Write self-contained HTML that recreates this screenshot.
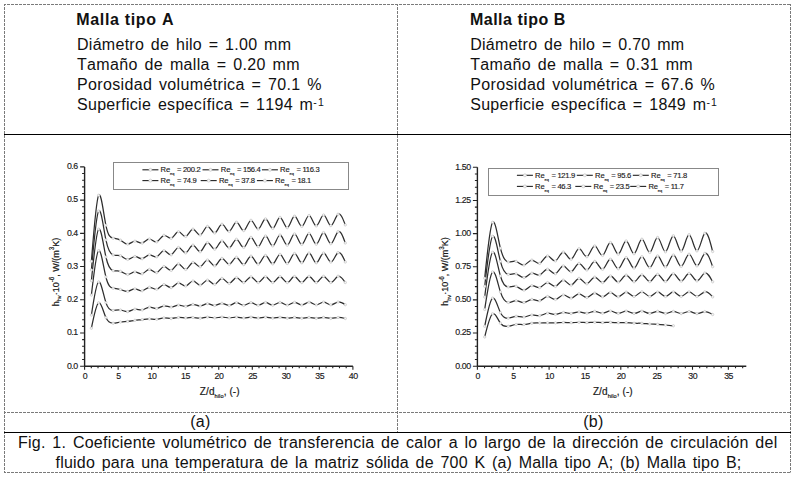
<!DOCTYPE html>
<html><head><meta charset="utf-8"><style>
html,body{margin:0;padding:0;background:#fff;}
body{width:795px;height:479px;position:relative;overflow:hidden;font-family:"Liberation Sans",sans-serif;color:#111;}
.t{position:absolute;white-space:nowrap;font-size:16px;word-spacing:2px;line-height:20px;font-kerning:none;}
.b{font-weight:bold;}
svg{position:absolute;left:0;top:0;}
.cv{fill:none;stroke:#2e2e2e;stroke-width:1.25;}
.mk{fill:#f6f6f6;stroke:#bdbdbd;stroke-width:0.6;}
.ax{fill:none;stroke:#222;stroke-width:1.4;}
.tk{fill:none;stroke:#222;stroke-width:1.1;}
.tl{font-family:"Liberation Sans",sans-serif;font-size:8.8px;letter-spacing:-0.45px;fill:#1a1a1a;stroke:#1a1a1a;stroke-width:0.15px;}
.al{font-family:"Liberation Sans",sans-serif;font-size:9px;fill:#1a1a1a;stroke:#1a1a1a;stroke-width:0.2px;}
.xl{font-family:"Liberation Sans",sans-serif;font-size:10px;letter-spacing:0.1px;fill:#1a1a1a;stroke:#1a1a1a;stroke-width:0.2px;}
.lt{font-family:"Liberation Sans",sans-serif;font-size:7.6px;fill:#1a1a1a;stroke:#1a1a1a;stroke-width:0.15px;}
.sb{font-size:3.8px;}
.sb2{font-size:5.6px;}
.sp{font-size:6.3px;}
.lb{fill:none;stroke:#888;stroke-width:1;}
.lg{stroke:#222;stroke-width:1.1;}
sup{font-size:10.5px;vertical-align:0;position:relative;top:-4px;letter-spacing:1.2px;}
</style></head><body>
<svg width="795" height="479" viewBox="0 0 795 479">
<g fill="none" stroke="#7a7a7a" stroke-width="1" stroke-dasharray="3 1" stroke-dashoffset="1">
<path d="M4,4.5 H790.5 M4.5,4 V472.5 M790.5,4 V472.5 M4,472.5 H791 M397.5,4 V432 M4,412.5 H790.5"/>
</g>
<path d="M4,134.5 H791 M4,432.5 H791" stroke="#000" stroke-width="1.2" fill="none"/>
<path d="M84.6,166.9 V366.2 M84.6,366.2 H352.9" class="ax"/>
<path d="M80.1,366.20 H84.6 M82.1,359.56 H84.6 M82.1,352.91 H84.6 M82.1,346.27 H84.6 M82.1,339.63 H84.6 M80.1,332.98 H84.6 M82.1,326.34 H84.6 M82.1,319.70 H84.6 M82.1,313.05 H84.6 M82.1,306.41 H84.6 M80.1,299.77 H84.6 M82.1,293.12 H84.6 M82.1,286.48 H84.6 M82.1,279.84 H84.6 M82.1,273.19 H84.6 M80.1,266.55 H84.6 M82.1,259.91 H84.6 M82.1,253.26 H84.6 M82.1,246.62 H84.6 M82.1,239.98 H84.6 M80.1,233.33 H84.6 M82.1,226.69 H84.6 M82.1,220.05 H84.6 M82.1,213.40 H84.6 M82.1,206.76 H84.6 M80.1,200.12 H84.6 M82.1,193.47 H84.6 M82.1,186.83 H84.6 M82.1,180.19 H84.6 M82.1,173.54 H84.6 M80.1,166.90 H84.6 M84.60,366.2 V369.8 M91.31,366.2 V368.2 M98.01,366.2 V368.2 M104.72,366.2 V368.2 M111.43,366.2 V368.2 M118.14,366.2 V369.8 M124.84,366.2 V368.2 M131.55,366.2 V368.2 M138.26,366.2 V368.2 M144.97,366.2 V368.2 M151.67,366.2 V369.8 M158.38,366.2 V368.2 M165.09,366.2 V368.2 M171.80,366.2 V368.2 M178.50,366.2 V368.2 M185.21,366.2 V369.8 M191.92,366.2 V368.2 M198.63,366.2 V368.2 M205.33,366.2 V368.2 M212.04,366.2 V368.2 M218.75,366.2 V369.8 M225.46,366.2 V368.2 M232.16,366.2 V368.2 M238.87,366.2 V368.2 M245.58,366.2 V368.2 M252.29,366.2 V369.8 M258.99,366.2 V368.2 M265.70,366.2 V368.2 M272.41,366.2 V368.2 M279.12,366.2 V368.2 M285.82,366.2 V369.8 M292.53,366.2 V368.2 M299.24,366.2 V368.2 M305.95,366.2 V368.2 M312.65,366.2 V368.2 M319.36,366.2 V369.8 M326.07,366.2 V368.2 M332.78,366.2 V368.2 M339.48,366.2 V368.2 M346.19,366.2 V368.2 M352.90,366.2 V369.8 " class="tk"/>
<text x="77.8" y="368.5" text-anchor="end" class="tl">0.0</text><text x="77.8" y="335.3" text-anchor="end" class="tl">0.1</text><text x="77.8" y="302.1" text-anchor="end" class="tl">0.2</text><text x="77.8" y="268.8" text-anchor="end" class="tl">0.3</text><text x="77.8" y="235.6" text-anchor="end" class="tl">0.4</text><text x="77.8" y="202.4" text-anchor="end" class="tl">0.5</text><text x="77.8" y="169.2" text-anchor="end" class="tl">0.6</text><text x="84.9" y="378.8" text-anchor="middle" class="tl">0</text><text x="118.4" y="378.8" text-anchor="middle" class="tl">5</text><text x="152.0" y="378.8" text-anchor="middle" class="tl">10</text><text x="185.5" y="378.8" text-anchor="middle" class="tl">15</text><text x="219.0" y="378.8" text-anchor="middle" class="tl">20</text><text x="252.6" y="378.8" text-anchor="middle" class="tl">25</text><text x="286.1" y="378.8" text-anchor="middle" class="tl">30</text><text x="319.7" y="378.8" text-anchor="middle" class="tl">35</text><text x="353.2" y="378.8" text-anchor="middle" class="tl">40</text>
<rect x="113.5" y="162.5" width="235" height="27" class="lb"/>
<path d="M142.4,169.8 H158.4" class="lg"/><circle cx="150.4" cy="169.8" r="1.5" class="mk"/><text x="160.6" y="172.4" class="lt">Re<tspan class="sb" dx="-0.3" dy="2.6">eq</tspan><tspan dy="-2.6" dx="0.9" letter-spacing="-0.3"> = 200.2</tspan></text><path d="M202.5,169.8 H218.5" class="lg"/><circle cx="210.5" cy="169.8" r="1.5" class="mk"/><text x="220.7" y="172.4" class="lt">Re<tspan class="sb" dx="-0.3" dy="2.6">eq</tspan><tspan dy="-2.6" dx="0.9" letter-spacing="-0.3"> = 156.4</tspan></text><path d="M261.9,169.8 H277.9" class="lg"/><circle cx="269.9" cy="169.8" r="1.5" class="mk"/><text x="280.1" y="172.4" class="lt">Re<tspan class="sb" dx="-0.3" dy="2.6">eq</tspan><tspan dy="-2.6" dx="0.9" letter-spacing="-0.3"> = 116.3</tspan></text><path d="M142.4,180.6 H158.4" class="lg"/><circle cx="150.4" cy="180.6" r="1.5" class="mk"/><text x="160.6" y="183.2" class="lt">Re<tspan class="sb" dx="-0.3" dy="2.6">eq</tspan><tspan dy="-2.6" dx="0.9" letter-spacing="-0.3"> = 74.9</tspan></text><path d="M200.7,180.6 H216.7" class="lg"/><circle cx="208.7" cy="180.6" r="1.5" class="mk"/><text x="218.9" y="183.2" class="lt">Re<tspan class="sb" dx="-0.3" dy="2.6">eq</tspan><tspan dy="-2.6" dx="0.9" letter-spacing="-0.3"> = 37.8</tspan></text><path d="M256.9,180.6 H272.9" class="lg"/><circle cx="264.9" cy="180.6" r="1.5" class="mk"/><text x="275.1" y="183.2" class="lt">Re<tspan class="sb" dx="-0.3" dy="2.6">eq</tspan><tspan dy="-2.6" dx="0.9" letter-spacing="-0.3"> = 18.1</tspan></text>
<path d="M91.40,261.30 C93.82,230.39 96.24,199.49 98.65,195.30 C101.07,191.11 103.49,213.64 105.91,225.30 C108.33,236.96 110.74,237.76 113.16,238.20 C115.58,238.64 118.00,238.72 120.42,240.10 C122.83,241.48 125.25,244.14 127.67,244.10 C130.09,244.06 132.51,241.31 134.92,241.20 C137.34,241.09 139.76,243.63 142.18,243.10 C144.60,242.57 147.01,238.97 149.43,239.00 C151.85,239.03 154.27,242.70 156.69,241.90 C159.10,241.10 161.52,235.81 163.94,235.30 C166.36,234.79 168.78,239.04 171.19,238.30 C173.61,237.56 176.03,231.84 178.45,231.70 C180.87,231.56 183.28,237.00 185.70,236.40 C188.12,235.80 190.54,229.15 192.96,229.10 C195.37,229.05 197.79,235.60 200.21,235.00 C202.63,234.40 205.05,226.64 207.46,226.40 C209.88,226.16 212.30,233.45 214.72,233.00 C217.14,232.55 219.55,224.37 221.97,224.20 C224.39,224.03 226.81,231.86 229.23,231.40 C231.64,230.94 234.06,222.18 236.48,222.20 C238.90,222.22 241.32,231.03 243.73,230.60 C246.15,230.17 248.57,220.49 250.99,220.30 C253.41,220.11 255.82,229.40 258.24,229.10 C260.66,228.80 263.08,218.91 265.50,218.90 C267.91,218.89 270.33,228.77 272.75,228.40 C275.17,228.03 277.59,217.43 280.00,217.40 C282.42,217.37 284.84,227.93 287.26,227.70 C289.68,227.47 292.09,216.44 294.51,216.20 C296.93,215.96 299.35,226.49 301.77,226.40 C304.18,226.31 306.60,215.58 309.02,215.50 C311.44,215.42 313.86,225.97 316.27,225.90 C318.69,225.83 321.11,215.13 323.53,215.00 C325.95,214.87 328.36,225.32 330.78,225.60 C333.20,225.88 335.62,216.01 338.04,214.20 C340.45,212.39 342.87,218.65 345.29,224.90" class="cv"/>
<path d="M91.40,270.00 C93.82,242.25 96.24,214.51 98.65,211.00 C101.07,207.49 103.49,228.22 105.91,239.90 C108.33,251.58 110.74,254.19 113.16,255.00 C115.58,255.81 118.00,254.80 120.42,255.70 C122.83,256.60 125.25,259.40 127.67,259.40 C130.09,259.40 132.51,256.58 134.92,256.50 C137.34,256.42 139.76,259.07 142.18,258.70 C144.60,258.33 147.01,254.94 149.43,254.80 C151.85,254.66 154.27,257.77 156.69,256.80 C159.10,255.83 161.52,250.77 163.94,250.70 C166.36,250.63 168.78,255.54 171.19,254.80 C173.61,254.06 176.03,247.65 178.45,247.50 C180.87,247.35 183.28,253.45 185.70,252.90 C188.12,252.35 190.54,245.13 192.96,245.10 C195.37,245.07 197.79,252.21 200.21,251.70 C202.63,251.19 205.05,243.03 207.46,242.60 C209.88,242.17 212.30,249.49 214.72,249.20 C217.14,248.91 219.55,241.03 221.97,240.90 C224.39,240.77 226.81,248.38 229.23,248.00 C231.64,247.62 234.06,239.23 236.48,239.30 C238.90,239.37 241.32,247.89 243.73,247.40 C246.15,246.91 248.57,237.39 250.99,237.40 C253.41,237.41 255.82,246.94 258.24,246.60 C260.66,246.26 263.08,236.03 265.50,236.00 C267.91,235.97 270.33,246.13 272.75,245.90 C275.17,245.67 277.59,235.06 280.00,235.00 C282.42,234.94 284.84,245.43 287.26,245.20 C289.68,244.97 292.09,234.02 294.51,233.90 C296.93,233.78 299.35,244.50 301.77,244.40 C304.18,244.30 306.60,233.38 309.02,233.40 C311.44,233.42 313.86,244.37 316.27,244.20 C318.69,244.03 321.11,232.76 323.53,232.60 C325.95,232.44 328.36,243.41 330.78,243.70 C333.20,243.99 335.62,233.60 338.04,231.70 C340.45,229.80 342.87,236.40 345.29,243.00" class="cv"/>
<path d="M91.40,280.70 C93.82,256.15 96.24,231.60 98.65,229.10 C101.07,226.60 103.49,246.14 105.91,257.00 C108.33,267.86 110.74,270.04 113.16,270.70 C115.58,271.36 118.00,270.50 120.42,271.30 C122.83,272.10 125.25,274.55 127.67,274.50 C130.09,274.45 132.51,271.91 134.92,271.90 C137.34,271.89 139.76,274.43 142.18,273.80 C144.60,273.17 147.01,269.37 149.43,269.40 C151.85,269.43 154.27,273.27 156.69,272.60 C159.10,271.93 161.52,266.73 163.94,266.50 C166.36,266.27 168.78,271.01 171.19,270.40 C173.61,269.79 176.03,263.84 178.45,263.80 C180.87,263.76 183.28,269.62 185.70,269.40 C188.12,269.18 190.54,262.88 192.96,262.40 C195.37,261.92 197.79,267.28 200.21,266.80 C202.63,266.32 205.05,260.02 207.46,260.00 C209.88,259.98 212.30,266.23 214.72,265.90 C217.14,265.57 219.55,258.65 221.97,258.40 C224.39,258.15 226.81,264.57 229.23,264.30 C231.64,264.03 234.06,257.06 236.48,257.30 C238.90,257.54 241.32,264.97 243.73,264.60 C246.15,264.23 248.57,256.06 250.99,256.10 C253.41,256.14 255.82,264.40 258.24,264.20 C260.66,264.00 263.08,255.36 265.50,255.40 C267.91,255.44 270.33,264.16 272.75,263.90 C275.17,263.64 277.59,254.38 280.00,254.40 C282.42,254.42 284.84,263.70 287.26,263.50 C289.68,263.30 292.09,253.60 294.51,253.50 C296.93,253.40 299.35,262.90 301.77,262.80 C304.18,262.70 306.60,252.99 309.02,253.00 C311.44,253.01 313.86,262.73 316.27,262.80 C318.69,262.87 321.11,253.28 323.53,253.00 C325.95,252.72 328.36,261.76 330.78,262.10 C333.20,262.44 335.62,254.07 338.04,252.60 C340.45,251.13 342.87,256.57 345.29,262.00" class="cv"/>
<path d="M91.40,295.10 C93.82,273.64 96.24,252.18 98.65,250.60 C101.07,249.02 103.49,267.34 105.91,277.00 C108.33,286.66 110.74,287.68 113.16,288.20 C115.58,288.72 118.00,288.74 120.42,289.50 C122.83,290.26 125.25,291.75 127.67,291.40 C130.09,291.05 132.51,288.87 134.92,288.90 C137.34,288.93 139.76,291.17 142.18,290.80 C144.60,290.43 147.01,287.46 149.43,287.30 C151.85,287.14 154.27,289.79 156.69,289.20 C159.10,288.61 161.52,284.76 163.94,284.60 C166.36,284.44 168.78,287.95 171.19,287.60 C173.61,287.25 176.03,283.02 178.45,282.80 C180.87,282.58 183.28,286.37 185.70,286.00 C188.12,285.63 190.54,281.08 192.96,281.00 C195.37,280.92 197.79,285.29 200.21,285.10 C202.63,284.91 205.05,280.16 207.46,280.10 C209.88,280.04 212.30,284.69 214.72,284.30 C217.14,283.91 219.55,278.49 221.97,278.40 C224.39,278.31 226.81,283.55 229.23,283.40 C231.64,283.25 234.06,277.72 236.48,277.60 C238.90,277.48 241.32,282.78 243.73,282.60 C246.15,282.42 248.57,276.75 250.99,276.80 C253.41,276.85 255.82,282.63 258.24,282.59 C260.66,282.54 263.08,276.69 265.50,276.70 C267.91,276.71 270.33,282.60 272.75,282.57 C275.17,282.54 277.59,276.59 280.00,276.60 C282.42,276.61 284.84,282.59 287.26,282.56 C289.68,282.53 292.09,276.49 294.51,276.50 C296.93,276.51 299.35,282.57 301.77,282.54 C304.18,282.51 306.60,276.39 309.02,276.40 C311.44,276.41 313.86,282.54 316.27,282.53 C318.69,282.52 321.11,276.36 323.53,276.30 C325.95,276.24 328.36,282.28 330.78,282.51 C333.20,282.75 335.62,277.17 338.04,276.20 C340.45,275.23 342.87,278.86 345.29,282.50" class="cv"/>
<path d="M91.40,315.10 C93.82,298.97 96.24,282.85 98.65,281.90 C101.07,280.95 103.49,295.19 105.91,302.60 C108.33,310.01 110.74,310.59 113.16,310.50 C115.58,310.41 118.00,309.65 120.42,310.00 C122.83,310.35 125.25,311.82 127.67,311.60 C130.09,311.38 132.51,309.47 134.92,309.20 C137.34,308.93 139.76,310.31 142.18,309.90 C144.60,309.49 147.01,307.30 149.43,307.10 C151.85,306.90 154.27,308.71 156.69,308.50 C159.10,308.29 161.52,306.08 163.94,305.80 C166.36,305.52 168.78,307.17 171.19,307.10 C173.61,307.03 176.03,305.22 178.45,305.10 C180.87,304.98 183.28,306.54 185.70,306.40 C188.12,306.26 190.54,304.43 192.96,304.40 C195.37,304.37 197.79,306.15 200.21,306.00 C202.63,305.85 205.05,303.76 207.46,303.70 C209.88,303.64 212.30,305.60 214.72,305.50 C217.14,305.40 219.55,303.23 221.97,303.30 C224.39,303.37 226.81,305.67 229.23,305.50 C231.64,305.33 234.06,302.67 236.48,302.70 C238.90,302.73 241.32,305.43 243.73,305.40 C246.15,305.37 248.57,302.61 250.99,302.60 C253.41,302.59 255.82,305.32 258.24,305.30 C260.66,305.28 263.08,302.52 265.50,302.50 C267.91,302.48 270.33,305.22 272.75,305.20 C275.17,305.18 277.59,302.42 280.00,302.40 C282.42,302.38 284.84,305.12 287.26,305.10 C289.68,305.08 292.09,302.32 294.51,302.30 C296.93,302.28 299.35,305.02 301.77,305.00 C304.18,304.98 306.60,302.22 309.02,302.20 C311.44,302.18 313.86,304.91 316.27,304.90 C318.69,304.89 321.11,302.15 323.53,302.10 C325.95,302.05 328.36,304.70 330.78,304.80 C333.20,304.90 335.62,302.44 338.04,302.00 C340.45,301.56 342.87,303.13 345.29,304.70" class="cv"/>
<path d="M91.40,328.20 C93.82,315.97 96.24,303.74 98.65,302.80 C101.07,301.86 103.49,312.23 105.91,317.60 C108.33,322.97 110.74,323.36 113.16,323.20 C115.58,323.04 118.00,322.35 120.42,322.00 C122.83,321.65 125.25,321.66 127.67,321.40 C130.09,321.14 132.51,320.61 134.92,320.30 C137.34,319.99 139.76,319.88 142.18,319.60 C144.60,319.32 147.01,318.85 149.43,318.90 C151.85,318.95 154.27,319.53 156.69,319.30 C159.10,319.07 161.52,318.04 163.94,317.90 C166.36,317.76 168.78,318.53 171.19,318.50 C173.61,318.47 176.03,317.65 178.45,317.50 C180.87,317.35 183.28,317.89 185.70,317.90 C188.12,317.91 190.54,317.40 192.96,317.50 C195.37,317.60 197.79,318.31 200.21,318.20 C202.63,318.09 205.05,317.15 207.46,317.10 C209.88,317.05 212.30,317.89 214.72,317.90 C217.14,317.91 219.55,317.10 221.97,317.10 C224.39,317.10 226.81,317.90 229.23,317.90 C231.64,317.90 234.06,317.08 236.48,317.10 C238.90,317.12 241.32,317.97 243.73,317.97 C246.15,317.98 248.57,317.14 250.99,317.16 C253.41,317.17 255.82,318.04 258.24,318.05 C260.66,318.06 263.08,317.20 265.50,317.21 C267.91,317.23 270.33,318.12 272.75,318.12 C275.17,318.13 277.59,317.26 280.00,317.27 C282.42,317.29 284.84,318.19 287.26,318.20 C289.68,318.21 292.09,317.31 294.51,317.33 C296.93,317.34 299.35,318.27 301.77,318.27 C304.18,318.28 306.60,317.37 309.02,317.39 C311.44,317.40 313.86,318.34 316.27,318.35 C318.69,318.36 321.11,317.44 323.53,317.44 C325.95,317.45 328.36,318.38 330.78,318.42 C333.20,318.47 335.62,317.63 338.04,317.50 C340.45,317.37 342.87,317.93 345.29,318.50" class="cv"/>
<circle cx="91.40" cy="261.30" r="1.2" class="mk"/><circle cx="98.65" cy="195.30" r="1.2" class="mk"/><circle cx="105.91" cy="225.30" r="1.2" class="mk"/><circle cx="113.16" cy="238.20" r="1.2" class="mk"/><circle cx="120.42" cy="240.10" r="1.2" class="mk"/><circle cx="127.67" cy="244.10" r="1.2" class="mk"/><circle cx="134.92" cy="241.20" r="1.2" class="mk"/><circle cx="142.18" cy="243.10" r="1.2" class="mk"/><circle cx="149.43" cy="239.00" r="1.2" class="mk"/><circle cx="156.69" cy="241.90" r="1.2" class="mk"/><circle cx="163.94" cy="235.30" r="1.2" class="mk"/><circle cx="171.19" cy="238.30" r="1.2" class="mk"/><circle cx="178.45" cy="231.70" r="1.2" class="mk"/><circle cx="185.70" cy="236.40" r="1.2" class="mk"/><circle cx="192.96" cy="229.10" r="1.2" class="mk"/><circle cx="200.21" cy="235.00" r="1.2" class="mk"/><circle cx="207.46" cy="226.40" r="1.2" class="mk"/><circle cx="214.72" cy="233.00" r="1.2" class="mk"/><circle cx="221.97" cy="224.20" r="1.2" class="mk"/><circle cx="229.23" cy="231.40" r="1.2" class="mk"/><circle cx="236.48" cy="222.20" r="1.2" class="mk"/><circle cx="243.73" cy="230.60" r="1.2" class="mk"/><circle cx="250.99" cy="220.30" r="1.2" class="mk"/><circle cx="258.24" cy="229.10" r="1.2" class="mk"/><circle cx="265.50" cy="218.90" r="1.2" class="mk"/><circle cx="272.75" cy="228.40" r="1.2" class="mk"/><circle cx="280.00" cy="217.40" r="1.2" class="mk"/><circle cx="287.26" cy="227.70" r="1.2" class="mk"/><circle cx="294.51" cy="216.20" r="1.2" class="mk"/><circle cx="301.77" cy="226.40" r="1.2" class="mk"/><circle cx="309.02" cy="215.50" r="1.2" class="mk"/><circle cx="316.27" cy="225.90" r="1.2" class="mk"/><circle cx="323.53" cy="215.00" r="1.2" class="mk"/><circle cx="330.78" cy="225.60" r="1.2" class="mk"/><circle cx="338.04" cy="214.20" r="1.2" class="mk"/><circle cx="345.29" cy="224.90" r="1.2" class="mk"/>
<circle cx="91.40" cy="270.00" r="1.2" class="mk"/><circle cx="98.65" cy="211.00" r="1.2" class="mk"/><circle cx="105.91" cy="239.90" r="1.2" class="mk"/><circle cx="113.16" cy="255.00" r="1.2" class="mk"/><circle cx="120.42" cy="255.70" r="1.2" class="mk"/><circle cx="127.67" cy="259.40" r="1.2" class="mk"/><circle cx="134.92" cy="256.50" r="1.2" class="mk"/><circle cx="142.18" cy="258.70" r="1.2" class="mk"/><circle cx="149.43" cy="254.80" r="1.2" class="mk"/><circle cx="156.69" cy="256.80" r="1.2" class="mk"/><circle cx="163.94" cy="250.70" r="1.2" class="mk"/><circle cx="171.19" cy="254.80" r="1.2" class="mk"/><circle cx="178.45" cy="247.50" r="1.2" class="mk"/><circle cx="185.70" cy="252.90" r="1.2" class="mk"/><circle cx="192.96" cy="245.10" r="1.2" class="mk"/><circle cx="200.21" cy="251.70" r="1.2" class="mk"/><circle cx="207.46" cy="242.60" r="1.2" class="mk"/><circle cx="214.72" cy="249.20" r="1.2" class="mk"/><circle cx="221.97" cy="240.90" r="1.2" class="mk"/><circle cx="229.23" cy="248.00" r="1.2" class="mk"/><circle cx="236.48" cy="239.30" r="1.2" class="mk"/><circle cx="243.73" cy="247.40" r="1.2" class="mk"/><circle cx="250.99" cy="237.40" r="1.2" class="mk"/><circle cx="258.24" cy="246.60" r="1.2" class="mk"/><circle cx="265.50" cy="236.00" r="1.2" class="mk"/><circle cx="272.75" cy="245.90" r="1.2" class="mk"/><circle cx="280.00" cy="235.00" r="1.2" class="mk"/><circle cx="287.26" cy="245.20" r="1.2" class="mk"/><circle cx="294.51" cy="233.90" r="1.2" class="mk"/><circle cx="301.77" cy="244.40" r="1.2" class="mk"/><circle cx="309.02" cy="233.40" r="1.2" class="mk"/><circle cx="316.27" cy="244.20" r="1.2" class="mk"/><circle cx="323.53" cy="232.60" r="1.2" class="mk"/><circle cx="330.78" cy="243.70" r="1.2" class="mk"/><circle cx="338.04" cy="231.70" r="1.2" class="mk"/><circle cx="345.29" cy="243.00" r="1.2" class="mk"/>
<circle cx="91.40" cy="280.70" r="1.2" class="mk"/><circle cx="98.65" cy="229.10" r="1.2" class="mk"/><circle cx="105.91" cy="257.00" r="1.2" class="mk"/><circle cx="113.16" cy="270.70" r="1.2" class="mk"/><circle cx="120.42" cy="271.30" r="1.2" class="mk"/><circle cx="127.67" cy="274.50" r="1.2" class="mk"/><circle cx="134.92" cy="271.90" r="1.2" class="mk"/><circle cx="142.18" cy="273.80" r="1.2" class="mk"/><circle cx="149.43" cy="269.40" r="1.2" class="mk"/><circle cx="156.69" cy="272.60" r="1.2" class="mk"/><circle cx="163.94" cy="266.50" r="1.2" class="mk"/><circle cx="171.19" cy="270.40" r="1.2" class="mk"/><circle cx="178.45" cy="263.80" r="1.2" class="mk"/><circle cx="185.70" cy="269.40" r="1.2" class="mk"/><circle cx="192.96" cy="262.40" r="1.2" class="mk"/><circle cx="200.21" cy="266.80" r="1.2" class="mk"/><circle cx="207.46" cy="260.00" r="1.2" class="mk"/><circle cx="214.72" cy="265.90" r="1.2" class="mk"/><circle cx="221.97" cy="258.40" r="1.2" class="mk"/><circle cx="229.23" cy="264.30" r="1.2" class="mk"/><circle cx="236.48" cy="257.30" r="1.2" class="mk"/><circle cx="243.73" cy="264.60" r="1.2" class="mk"/><circle cx="250.99" cy="256.10" r="1.2" class="mk"/><circle cx="258.24" cy="264.20" r="1.2" class="mk"/><circle cx="265.50" cy="255.40" r="1.2" class="mk"/><circle cx="272.75" cy="263.90" r="1.2" class="mk"/><circle cx="280.00" cy="254.40" r="1.2" class="mk"/><circle cx="287.26" cy="263.50" r="1.2" class="mk"/><circle cx="294.51" cy="253.50" r="1.2" class="mk"/><circle cx="301.77" cy="262.80" r="1.2" class="mk"/><circle cx="309.02" cy="253.00" r="1.2" class="mk"/><circle cx="316.27" cy="262.80" r="1.2" class="mk"/><circle cx="323.53" cy="253.00" r="1.2" class="mk"/><circle cx="330.78" cy="262.10" r="1.2" class="mk"/><circle cx="338.04" cy="252.60" r="1.2" class="mk"/><circle cx="345.29" cy="262.00" r="1.2" class="mk"/>
<circle cx="91.40" cy="295.10" r="1.2" class="mk"/><circle cx="98.65" cy="250.60" r="1.2" class="mk"/><circle cx="105.91" cy="277.00" r="1.2" class="mk"/><circle cx="113.16" cy="288.20" r="1.2" class="mk"/><circle cx="120.42" cy="289.50" r="1.2" class="mk"/><circle cx="127.67" cy="291.40" r="1.2" class="mk"/><circle cx="134.92" cy="288.90" r="1.2" class="mk"/><circle cx="142.18" cy="290.80" r="1.2" class="mk"/><circle cx="149.43" cy="287.30" r="1.2" class="mk"/><circle cx="156.69" cy="289.20" r="1.2" class="mk"/><circle cx="163.94" cy="284.60" r="1.2" class="mk"/><circle cx="171.19" cy="287.60" r="1.2" class="mk"/><circle cx="178.45" cy="282.80" r="1.2" class="mk"/><circle cx="185.70" cy="286.00" r="1.2" class="mk"/><circle cx="192.96" cy="281.00" r="1.2" class="mk"/><circle cx="200.21" cy="285.10" r="1.2" class="mk"/><circle cx="207.46" cy="280.10" r="1.2" class="mk"/><circle cx="214.72" cy="284.30" r="1.2" class="mk"/><circle cx="221.97" cy="278.40" r="1.2" class="mk"/><circle cx="229.23" cy="283.40" r="1.2" class="mk"/><circle cx="236.48" cy="277.60" r="1.2" class="mk"/><circle cx="243.73" cy="282.60" r="1.2" class="mk"/><circle cx="250.99" cy="276.80" r="1.2" class="mk"/><circle cx="258.24" cy="282.59" r="1.2" class="mk"/><circle cx="265.50" cy="276.70" r="1.2" class="mk"/><circle cx="272.75" cy="282.57" r="1.2" class="mk"/><circle cx="280.00" cy="276.60" r="1.2" class="mk"/><circle cx="287.26" cy="282.56" r="1.2" class="mk"/><circle cx="294.51" cy="276.50" r="1.2" class="mk"/><circle cx="301.77" cy="282.54" r="1.2" class="mk"/><circle cx="309.02" cy="276.40" r="1.2" class="mk"/><circle cx="316.27" cy="282.53" r="1.2" class="mk"/><circle cx="323.53" cy="276.30" r="1.2" class="mk"/><circle cx="330.78" cy="282.51" r="1.2" class="mk"/><circle cx="338.04" cy="276.20" r="1.2" class="mk"/><circle cx="345.29" cy="282.50" r="1.2" class="mk"/>
<circle cx="91.40" cy="315.10" r="1.2" class="mk"/><circle cx="98.65" cy="281.90" r="1.2" class="mk"/><circle cx="105.91" cy="302.60" r="1.2" class="mk"/><circle cx="113.16" cy="310.50" r="1.2" class="mk"/><circle cx="120.42" cy="310.00" r="1.2" class="mk"/><circle cx="127.67" cy="311.60" r="1.2" class="mk"/><circle cx="134.92" cy="309.20" r="1.2" class="mk"/><circle cx="142.18" cy="309.90" r="1.2" class="mk"/><circle cx="149.43" cy="307.10" r="1.2" class="mk"/><circle cx="156.69" cy="308.50" r="1.2" class="mk"/><circle cx="163.94" cy="305.80" r="1.2" class="mk"/><circle cx="171.19" cy="307.10" r="1.2" class="mk"/><circle cx="178.45" cy="305.10" r="1.2" class="mk"/><circle cx="185.70" cy="306.40" r="1.2" class="mk"/><circle cx="192.96" cy="304.40" r="1.2" class="mk"/><circle cx="200.21" cy="306.00" r="1.2" class="mk"/><circle cx="207.46" cy="303.70" r="1.2" class="mk"/><circle cx="214.72" cy="305.50" r="1.2" class="mk"/><circle cx="221.97" cy="303.30" r="1.2" class="mk"/><circle cx="229.23" cy="305.50" r="1.2" class="mk"/><circle cx="236.48" cy="302.70" r="1.2" class="mk"/><circle cx="243.73" cy="305.40" r="1.2" class="mk"/><circle cx="250.99" cy="302.60" r="1.2" class="mk"/><circle cx="258.24" cy="305.30" r="1.2" class="mk"/><circle cx="265.50" cy="302.50" r="1.2" class="mk"/><circle cx="272.75" cy="305.20" r="1.2" class="mk"/><circle cx="280.00" cy="302.40" r="1.2" class="mk"/><circle cx="287.26" cy="305.10" r="1.2" class="mk"/><circle cx="294.51" cy="302.30" r="1.2" class="mk"/><circle cx="301.77" cy="305.00" r="1.2" class="mk"/><circle cx="309.02" cy="302.20" r="1.2" class="mk"/><circle cx="316.27" cy="304.90" r="1.2" class="mk"/><circle cx="323.53" cy="302.10" r="1.2" class="mk"/><circle cx="330.78" cy="304.80" r="1.2" class="mk"/><circle cx="338.04" cy="302.00" r="1.2" class="mk"/><circle cx="345.29" cy="304.70" r="1.2" class="mk"/>
<circle cx="91.40" cy="328.20" r="1.2" class="mk"/><circle cx="98.65" cy="302.80" r="1.2" class="mk"/><circle cx="105.91" cy="317.60" r="1.2" class="mk"/><circle cx="113.16" cy="323.20" r="1.2" class="mk"/><circle cx="120.42" cy="322.00" r="1.2" class="mk"/><circle cx="127.67" cy="321.40" r="1.2" class="mk"/><circle cx="134.92" cy="320.30" r="1.2" class="mk"/><circle cx="142.18" cy="319.60" r="1.2" class="mk"/><circle cx="149.43" cy="318.90" r="1.2" class="mk"/><circle cx="156.69" cy="319.30" r="1.2" class="mk"/><circle cx="163.94" cy="317.90" r="1.2" class="mk"/><circle cx="171.19" cy="318.50" r="1.2" class="mk"/><circle cx="178.45" cy="317.50" r="1.2" class="mk"/><circle cx="185.70" cy="317.90" r="1.2" class="mk"/><circle cx="192.96" cy="317.50" r="1.2" class="mk"/><circle cx="200.21" cy="318.20" r="1.2" class="mk"/><circle cx="207.46" cy="317.10" r="1.2" class="mk"/><circle cx="214.72" cy="317.90" r="1.2" class="mk"/><circle cx="221.97" cy="317.10" r="1.2" class="mk"/><circle cx="229.23" cy="317.90" r="1.2" class="mk"/><circle cx="236.48" cy="317.10" r="1.2" class="mk"/><circle cx="243.73" cy="317.97" r="1.2" class="mk"/><circle cx="250.99" cy="317.16" r="1.2" class="mk"/><circle cx="258.24" cy="318.05" r="1.2" class="mk"/><circle cx="265.50" cy="317.21" r="1.2" class="mk"/><circle cx="272.75" cy="318.12" r="1.2" class="mk"/><circle cx="280.00" cy="317.27" r="1.2" class="mk"/><circle cx="287.26" cy="318.20" r="1.2" class="mk"/><circle cx="294.51" cy="317.33" r="1.2" class="mk"/><circle cx="301.77" cy="318.27" r="1.2" class="mk"/><circle cx="309.02" cy="317.39" r="1.2" class="mk"/><circle cx="316.27" cy="318.35" r="1.2" class="mk"/><circle cx="323.53" cy="317.44" r="1.2" class="mk"/><circle cx="330.78" cy="318.42" r="1.2" class="mk"/><circle cx="338.04" cy="317.50" r="1.2" class="mk"/><circle cx="345.29" cy="318.50" r="1.2" class="mk"/>
<text transform="translate(58.5,272.0) rotate(-90)" text-anchor="middle" class="al">h<tspan class="sb2" dy="2.5">hv</tspan><tspan dy="-2.5">&#183;10</tspan><tspan class="sp" dy="-4.3">-6</tspan><tspan dy="4.3">, W/(m</tspan><tspan class="sp" dy="-4.3">3</tspan><tspan dy="4.3">K)</tspan></text>
<text x="199.8" y="394.7" class="xl">Z/d<tspan class="sb2" dy="3">hilo</tspan><tspan dy="-3">, (-)</tspan></text>
<path d="M477.4,167.3 V366.2 M477.4,366.2 H746.3" class="ax"/>
<path d="M472.9,366.20 H477.4 M474.9,359.57 H477.4 M474.9,352.94 H477.4 M474.9,346.31 H477.4 M474.9,339.68 H477.4 M472.9,333.05 H477.4 M474.9,326.42 H477.4 M474.9,319.79 H477.4 M474.9,313.16 H477.4 M474.9,306.53 H477.4 M472.9,299.90 H477.4 M474.9,293.27 H477.4 M474.9,286.64 H477.4 M474.9,280.01 H477.4 M474.9,273.38 H477.4 M472.9,266.75 H477.4 M474.9,260.12 H477.4 M474.9,253.49 H477.4 M474.9,246.86 H477.4 M474.9,240.23 H477.4 M472.9,233.60 H477.4 M474.9,226.97 H477.4 M474.9,220.34 H477.4 M474.9,213.71 H477.4 M474.9,207.08 H477.4 M472.9,200.45 H477.4 M474.9,193.82 H477.4 M474.9,187.19 H477.4 M474.9,180.56 H477.4 M474.9,173.93 H477.4 M472.9,167.30 H477.4 M477.40,366.2 V369.8 M484.57,366.2 V368.2 M491.74,366.2 V368.2 M498.91,366.2 V368.2 M506.08,366.2 V368.2 M513.25,366.2 V369.8 M520.42,366.2 V368.2 M527.59,366.2 V368.2 M534.76,366.2 V368.2 M541.93,366.2 V368.2 M549.10,366.2 V369.8 M556.27,366.2 V368.2 M563.44,366.2 V368.2 M570.61,366.2 V368.2 M577.78,366.2 V368.2 M584.95,366.2 V369.8 M592.12,366.2 V368.2 M599.29,366.2 V368.2 M606.46,366.2 V368.2 M613.63,366.2 V368.2 M620.80,366.2 V369.8 M627.97,366.2 V368.2 M635.14,366.2 V368.2 M642.31,366.2 V368.2 M649.48,366.2 V368.2 M656.65,366.2 V369.8 M663.82,366.2 V368.2 M670.99,366.2 V368.2 M678.16,366.2 V368.2 M685.33,366.2 V368.2 M692.50,366.2 V369.8 M699.67,366.2 V368.2 M706.84,366.2 V368.2 M714.01,366.2 V368.2 M721.18,366.2 V368.2 M728.35,366.2 V369.8 M735.52,366.2 V368.2 M742.69,366.2 V368.2 " class="tk"/>
<text x="470.6" y="368.5" text-anchor="end" class="tl">0.00</text><text x="470.6" y="335.4" text-anchor="end" class="tl">0.25</text><text x="470.6" y="302.2" text-anchor="end" class="tl">0.50</text><text x="470.6" y="269.1" text-anchor="end" class="tl">0.75</text><text x="470.6" y="235.9" text-anchor="end" class="tl">1.00</text><text x="470.6" y="202.8" text-anchor="end" class="tl">1.25</text><text x="470.6" y="169.6" text-anchor="end" class="tl">1.50</text><text x="477.7" y="378.8" text-anchor="middle" class="tl">0</text><text x="513.5" y="378.8" text-anchor="middle" class="tl">5</text><text x="549.4" y="378.8" text-anchor="middle" class="tl">10</text><text x="585.2" y="378.8" text-anchor="middle" class="tl">15</text><text x="621.1" y="378.8" text-anchor="middle" class="tl">20</text><text x="656.9" y="378.8" text-anchor="middle" class="tl">25</text><text x="692.8" y="378.8" text-anchor="middle" class="tl">30</text><text x="728.6" y="378.8" text-anchor="middle" class="tl">35</text>
<rect x="488.5" y="168.5" width="230" height="27" class="lb"/>
<path d="M516.9,175.3 H532.9" class="lg"/><circle cx="524.9" cy="175.3" r="1.5" class="mk"/><text x="535.1" y="177.9" class="lt">Re<tspan class="sb" dx="-0.3" dy="2.6">eq</tspan><tspan dy="-2.6" dx="0.9" letter-spacing="-0.3"> = 121.9</tspan></text><path d="M576.8,175.3 H592.8" class="lg"/><circle cx="584.8" cy="175.3" r="1.5" class="mk"/><text x="595.0" y="177.9" class="lt">Re<tspan class="sb" dx="-0.3" dy="2.6">eq</tspan><tspan dy="-2.6" dx="0.9" letter-spacing="-0.3"> = 95.6</tspan></text><path d="M632.8,175.3 H648.8" class="lg"/><circle cx="640.8" cy="175.3" r="1.5" class="mk"/><text x="651.0" y="177.9" class="lt">Re<tspan class="sb" dx="-0.3" dy="2.6">eq</tspan><tspan dy="-2.6" dx="0.9" letter-spacing="-0.3"> = 71.8</tspan></text><path d="M516.9,186.4 H532.9" class="lg"/><circle cx="524.9" cy="186.4" r="1.5" class="mk"/><text x="535.1" y="189.0" class="lt">Re<tspan class="sb" dx="-0.3" dy="2.6">eq</tspan><tspan dy="-2.6" dx="0.9" letter-spacing="-0.3"> = 46.3</tspan></text><path d="M575.3,186.4 H591.3" class="lg"/><circle cx="583.3" cy="186.4" r="1.5" class="mk"/><text x="593.5" y="189.0" class="lt">Re<tspan class="sb" dx="-0.3" dy="2.6">eq</tspan><tspan dy="-2.6" dx="0.9" letter-spacing="-0.3"> = 23.5</tspan></text><path d="M630.2,186.4 H646.2" class="lg"/><circle cx="638.2" cy="186.4" r="1.5" class="mk"/><text x="648.4" y="189.0" class="lt">Re<tspan class="sb" dx="-0.3" dy="2.6">eq</tspan><tspan dy="-2.6" dx="0.9" letter-spacing="-0.3"> = 11.7</tspan></text>
<path d="M484.70,278.20 C487.32,252.08 489.94,225.95 492.56,222.30 C495.18,218.65 497.80,237.47 500.42,248.20 C503.04,258.93 505.66,261.58 508.28,262.00 C510.90,262.42 513.52,260.60 516.14,261.40 C518.76,262.20 521.38,265.61 524.00,265.10 C526.62,264.59 529.24,260.15 531.86,260.10 C534.48,260.05 537.10,264.40 539.72,263.40 C542.34,262.40 544.96,256.04 547.58,255.90 C550.20,255.76 552.82,261.84 555.44,260.90 C558.06,259.96 560.68,252.00 563.30,252.00 C565.92,252.00 568.54,259.96 571.16,259.20 C573.78,258.44 576.40,248.97 579.02,248.70 C581.64,248.43 584.26,257.34 586.88,256.70 C589.50,256.06 592.12,245.85 594.74,245.90 C597.36,245.95 599.98,256.27 602.60,255.40 C605.22,254.53 607.84,242.48 610.46,242.50 C613.08,242.52 615.70,254.63 618.32,254.20 C620.94,253.77 623.56,240.81 626.18,240.90 C628.80,240.99 631.42,254.12 634.04,253.70 C636.66,253.28 639.28,239.32 641.90,239.20 C644.52,239.08 647.14,252.81 649.76,252.40 C652.38,251.99 655.00,237.44 657.62,237.50 C660.24,237.56 662.86,252.25 665.48,251.80 C668.10,251.35 670.72,235.77 673.34,235.80 C675.96,235.83 678.58,251.46 681.20,251.20 C683.82,250.94 686.44,234.78 689.06,234.70 C691.68,234.62 694.30,250.60 696.92,250.90 C699.54,251.20 702.16,235.81 704.78,233.30 C707.40,230.79 710.02,241.14 712.64,251.50" class="cv"/>
<path d="M484.70,286.30 C487.32,262.74 489.94,239.17 492.56,236.30 C495.18,233.43 497.80,251.25 500.42,261.40 C503.04,271.55 505.66,274.03 508.28,274.40 C510.90,274.77 513.52,273.03 516.14,273.80 C518.76,274.57 521.38,277.86 524.00,277.60 C526.62,277.34 529.24,273.55 531.86,273.20 C534.48,272.85 537.10,275.94 539.72,275.00 C542.34,274.06 544.96,269.09 547.58,269.20 C550.20,269.31 552.82,274.51 555.44,273.70 C558.06,272.89 560.68,266.06 563.30,265.90 C565.92,265.74 568.54,272.24 571.16,271.70 C573.78,271.16 576.40,263.57 579.02,263.40 C581.64,263.23 584.26,270.48 586.88,270.00 C589.50,269.52 592.12,261.30 594.74,261.40 C597.36,261.50 599.98,269.91 602.60,269.30 C605.22,268.69 607.84,259.07 610.46,259.20 C613.08,259.33 615.70,269.23 618.32,268.80 C620.94,268.37 623.56,257.61 626.18,257.60 C628.80,257.59 631.42,268.31 634.04,268.10 C636.66,267.89 639.28,256.73 641.90,256.70 C644.52,256.67 647.14,267.78 649.76,267.60 C652.38,267.42 655.00,255.96 657.62,255.90 C660.24,255.84 662.86,267.19 665.48,267.00 C668.10,266.81 670.72,255.07 673.34,255.00 C675.96,254.93 678.58,266.54 681.20,266.40 C683.82,266.26 686.44,254.36 689.06,254.20 C691.68,254.04 694.30,265.62 696.92,265.90 C699.54,266.18 702.16,255.15 704.78,253.40 C707.40,251.65 710.02,259.17 712.64,266.70" class="cv"/>
<path d="M484.70,297.00 C487.32,275.72 489.94,254.44 492.56,252.20 C495.18,249.96 497.80,266.75 500.42,276.00 C503.04,285.25 505.66,286.94 508.28,287.00 C510.90,287.06 513.52,285.47 516.14,286.30 C518.76,287.13 521.38,290.36 524.00,290.10 C526.62,289.84 529.24,286.09 531.86,285.70 C534.48,285.31 537.10,288.28 539.72,287.60 C542.34,286.92 544.96,282.58 547.58,282.60 C550.20,282.62 552.82,287.01 555.44,286.40 C558.06,285.79 560.68,280.18 563.30,280.10 C565.92,280.02 568.54,285.46 571.16,285.10 C573.78,284.74 576.40,278.58 579.02,278.40 C581.64,278.22 584.26,284.04 586.88,283.80 C589.50,283.56 592.12,277.28 594.74,277.10 C597.36,276.92 599.98,282.85 602.60,282.60 C605.22,282.35 607.84,275.91 610.46,275.90 C613.08,275.89 615.70,282.29 618.32,282.10 C620.94,281.91 623.56,275.11 626.18,275.10 C628.80,275.09 631.42,281.87 634.04,281.80 C636.66,281.73 639.28,274.80 641.90,274.80 C644.52,274.80 647.14,281.74 649.76,281.60 C652.38,281.46 655.00,274.25 657.62,274.30 C660.24,274.35 662.86,281.66 665.48,281.50 C668.10,281.34 670.72,273.73 673.34,273.70 C675.96,273.67 678.58,281.24 681.20,281.20 C683.82,281.16 686.44,273.51 689.06,273.40 C691.68,273.29 694.30,280.71 696.92,280.90 C699.54,281.09 702.16,274.05 704.78,273.00 C707.40,271.95 710.02,276.87 712.64,281.80" class="cv"/>
<path d="M484.70,309.40 C487.32,291.63 489.94,273.86 492.56,271.90 C495.18,269.94 497.80,283.80 500.42,291.90 C503.04,300.00 505.66,302.33 508.28,302.50 C510.90,302.67 513.52,300.67 516.14,300.70 C518.76,300.73 521.38,302.78 524.00,302.50 C526.62,302.22 529.24,299.59 531.86,299.40 C534.48,299.21 537.10,301.45 539.72,300.80 C542.34,300.15 544.96,296.61 547.58,296.50 C550.20,296.39 552.82,299.70 555.44,299.40 C558.06,299.10 560.68,295.19 563.30,295.00 C565.92,294.81 568.54,298.34 571.16,298.10 C573.78,297.86 576.40,293.86 579.02,293.80 C581.64,293.74 584.26,297.63 586.88,297.50 C589.50,297.37 592.12,293.21 594.74,293.10 C597.36,292.99 599.98,296.94 602.60,296.80 C605.22,296.66 607.84,292.44 610.46,292.50 C613.08,292.56 615.70,296.91 618.32,296.80 C620.94,296.69 623.56,292.13 626.18,292.10 C628.80,292.07 631.42,296.57 634.04,296.50 C636.66,296.43 639.28,291.80 641.90,291.80 C644.52,291.80 647.14,296.45 649.76,296.50 C652.38,296.55 655.00,292.02 657.62,292.00 C660.24,291.98 662.86,296.48 665.48,296.47 C668.10,296.46 670.72,291.94 673.34,291.93 C675.96,291.93 678.58,296.44 681.20,296.43 C683.82,296.43 686.44,291.91 689.06,291.87 C691.68,291.82 694.30,296.25 696.92,296.40 C699.54,296.55 702.16,292.43 704.78,291.80 C707.40,291.17 710.02,294.04 712.64,296.90" class="cv"/>
<path d="M484.70,326.30 C487.32,312.93 489.94,299.55 492.56,298.10 C495.18,296.65 497.80,307.11 500.42,312.60 C503.04,318.09 505.66,318.61 508.28,318.20 C510.90,317.79 513.52,316.43 516.14,316.30 C518.76,316.17 521.38,317.25 524.00,317.00 C526.62,316.75 529.24,315.18 531.86,315.00 C534.48,314.82 537.10,316.05 539.72,315.70 C542.34,315.35 544.96,313.42 547.58,313.20 C550.20,312.98 552.82,314.48 555.44,314.40 C558.06,314.32 560.68,312.68 563.30,312.50 C565.92,312.32 568.54,313.60 571.16,313.50 C573.78,313.40 576.40,311.91 579.02,311.90 C581.64,311.89 584.26,313.37 586.88,313.20 C589.50,313.03 592.12,311.23 594.74,311.30 C597.36,311.37 599.98,313.31 602.60,313.20 C605.22,313.09 607.84,310.92 610.46,311.00 C613.08,311.08 615.70,313.39 618.32,313.40 C620.94,313.41 623.56,311.10 626.18,311.10 C628.80,311.10 631.42,313.41 634.04,313.44 C636.66,313.47 639.28,311.20 641.90,311.20 C644.52,311.20 647.14,313.45 649.76,313.48 C652.38,313.51 655.00,311.30 657.62,311.30 C660.24,311.30 662.86,313.49 665.48,313.52 C668.10,313.55 670.72,311.40 673.34,311.40 C675.96,311.40 678.58,313.53 681.20,313.56 C683.82,313.59 686.44,311.52 689.06,311.50 C691.68,311.48 694.30,313.53 696.92,313.60 C699.54,313.67 702.16,311.78 704.78,311.60 C707.40,311.42 710.02,312.96 712.64,314.50" class="cv"/>
<path d="M484.70,337.00 C487.32,326.24 489.94,315.48 492.56,313.80 C495.18,312.12 497.80,319.52 500.42,323.20 C503.04,326.88 505.66,326.83 508.28,326.30 C510.90,325.77 513.52,324.78 516.14,324.50 C518.76,324.22 521.38,324.67 524.00,324.50 C526.62,324.33 529.24,323.53 531.86,323.20 C534.48,322.87 537.10,323.02 539.72,323.00 C542.34,322.98 544.96,322.80 547.58,322.80 C550.20,322.80 552.82,322.97 555.44,322.90 C558.06,322.83 560.68,322.52 563.30,322.50 C565.92,322.48 568.54,322.74 571.16,322.70 C573.78,322.66 576.40,322.32 579.02,322.30 C581.64,322.28 584.26,322.60 586.88,322.60 C589.50,322.60 592.12,322.30 594.74,322.30 C597.36,322.30 599.98,322.60 602.60,322.60 C605.22,322.60 607.84,322.29 610.46,322.30 C613.08,322.31 615.70,322.65 618.32,322.70 C620.94,322.75 623.56,322.52 626.18,322.60 C628.80,322.68 631.42,323.08 634.04,323.20 C636.66,323.32 639.28,323.18 641.90,323.30 C644.52,323.42 647.14,323.81 649.76,324.00 C652.38,324.19 655.00,324.17 657.62,324.30 C660.24,324.43 662.86,324.72 665.48,325.00 C668.10,325.28 670.72,325.54 673.34,325.80" class="cv"/>
<circle cx="484.70" cy="278.20" r="1.2" class="mk"/><circle cx="492.56" cy="222.30" r="1.2" class="mk"/><circle cx="500.42" cy="248.20" r="1.2" class="mk"/><circle cx="508.28" cy="262.00" r="1.2" class="mk"/><circle cx="516.14" cy="261.40" r="1.2" class="mk"/><circle cx="524.00" cy="265.10" r="1.2" class="mk"/><circle cx="531.86" cy="260.10" r="1.2" class="mk"/><circle cx="539.72" cy="263.40" r="1.2" class="mk"/><circle cx="547.58" cy="255.90" r="1.2" class="mk"/><circle cx="555.44" cy="260.90" r="1.2" class="mk"/><circle cx="563.30" cy="252.00" r="1.2" class="mk"/><circle cx="571.16" cy="259.20" r="1.2" class="mk"/><circle cx="579.02" cy="248.70" r="1.2" class="mk"/><circle cx="586.88" cy="256.70" r="1.2" class="mk"/><circle cx="594.74" cy="245.90" r="1.2" class="mk"/><circle cx="602.60" cy="255.40" r="1.2" class="mk"/><circle cx="610.46" cy="242.50" r="1.2" class="mk"/><circle cx="618.32" cy="254.20" r="1.2" class="mk"/><circle cx="626.18" cy="240.90" r="1.2" class="mk"/><circle cx="634.04" cy="253.70" r="1.2" class="mk"/><circle cx="641.90" cy="239.20" r="1.2" class="mk"/><circle cx="649.76" cy="252.40" r="1.2" class="mk"/><circle cx="657.62" cy="237.50" r="1.2" class="mk"/><circle cx="665.48" cy="251.80" r="1.2" class="mk"/><circle cx="673.34" cy="235.80" r="1.2" class="mk"/><circle cx="681.20" cy="251.20" r="1.2" class="mk"/><circle cx="689.06" cy="234.70" r="1.2" class="mk"/><circle cx="696.92" cy="250.90" r="1.2" class="mk"/><circle cx="704.78" cy="233.30" r="1.2" class="mk"/><circle cx="712.64" cy="251.50" r="1.2" class="mk"/>
<circle cx="484.70" cy="286.30" r="1.2" class="mk"/><circle cx="492.56" cy="236.30" r="1.2" class="mk"/><circle cx="500.42" cy="261.40" r="1.2" class="mk"/><circle cx="508.28" cy="274.40" r="1.2" class="mk"/><circle cx="516.14" cy="273.80" r="1.2" class="mk"/><circle cx="524.00" cy="277.60" r="1.2" class="mk"/><circle cx="531.86" cy="273.20" r="1.2" class="mk"/><circle cx="539.72" cy="275.00" r="1.2" class="mk"/><circle cx="547.58" cy="269.20" r="1.2" class="mk"/><circle cx="555.44" cy="273.70" r="1.2" class="mk"/><circle cx="563.30" cy="265.90" r="1.2" class="mk"/><circle cx="571.16" cy="271.70" r="1.2" class="mk"/><circle cx="579.02" cy="263.40" r="1.2" class="mk"/><circle cx="586.88" cy="270.00" r="1.2" class="mk"/><circle cx="594.74" cy="261.40" r="1.2" class="mk"/><circle cx="602.60" cy="269.30" r="1.2" class="mk"/><circle cx="610.46" cy="259.20" r="1.2" class="mk"/><circle cx="618.32" cy="268.80" r="1.2" class="mk"/><circle cx="626.18" cy="257.60" r="1.2" class="mk"/><circle cx="634.04" cy="268.10" r="1.2" class="mk"/><circle cx="641.90" cy="256.70" r="1.2" class="mk"/><circle cx="649.76" cy="267.60" r="1.2" class="mk"/><circle cx="657.62" cy="255.90" r="1.2" class="mk"/><circle cx="665.48" cy="267.00" r="1.2" class="mk"/><circle cx="673.34" cy="255.00" r="1.2" class="mk"/><circle cx="681.20" cy="266.40" r="1.2" class="mk"/><circle cx="689.06" cy="254.20" r="1.2" class="mk"/><circle cx="696.92" cy="265.90" r="1.2" class="mk"/><circle cx="704.78" cy="253.40" r="1.2" class="mk"/><circle cx="712.64" cy="266.70" r="1.2" class="mk"/>
<circle cx="484.70" cy="297.00" r="1.2" class="mk"/><circle cx="492.56" cy="252.20" r="1.2" class="mk"/><circle cx="500.42" cy="276.00" r="1.2" class="mk"/><circle cx="508.28" cy="287.00" r="1.2" class="mk"/><circle cx="516.14" cy="286.30" r="1.2" class="mk"/><circle cx="524.00" cy="290.10" r="1.2" class="mk"/><circle cx="531.86" cy="285.70" r="1.2" class="mk"/><circle cx="539.72" cy="287.60" r="1.2" class="mk"/><circle cx="547.58" cy="282.60" r="1.2" class="mk"/><circle cx="555.44" cy="286.40" r="1.2" class="mk"/><circle cx="563.30" cy="280.10" r="1.2" class="mk"/><circle cx="571.16" cy="285.10" r="1.2" class="mk"/><circle cx="579.02" cy="278.40" r="1.2" class="mk"/><circle cx="586.88" cy="283.80" r="1.2" class="mk"/><circle cx="594.74" cy="277.10" r="1.2" class="mk"/><circle cx="602.60" cy="282.60" r="1.2" class="mk"/><circle cx="610.46" cy="275.90" r="1.2" class="mk"/><circle cx="618.32" cy="282.10" r="1.2" class="mk"/><circle cx="626.18" cy="275.10" r="1.2" class="mk"/><circle cx="634.04" cy="281.80" r="1.2" class="mk"/><circle cx="641.90" cy="274.80" r="1.2" class="mk"/><circle cx="649.76" cy="281.60" r="1.2" class="mk"/><circle cx="657.62" cy="274.30" r="1.2" class="mk"/><circle cx="665.48" cy="281.50" r="1.2" class="mk"/><circle cx="673.34" cy="273.70" r="1.2" class="mk"/><circle cx="681.20" cy="281.20" r="1.2" class="mk"/><circle cx="689.06" cy="273.40" r="1.2" class="mk"/><circle cx="696.92" cy="280.90" r="1.2" class="mk"/><circle cx="704.78" cy="273.00" r="1.2" class="mk"/><circle cx="712.64" cy="281.80" r="1.2" class="mk"/>
<circle cx="484.70" cy="309.40" r="1.2" class="mk"/><circle cx="492.56" cy="271.90" r="1.2" class="mk"/><circle cx="500.42" cy="291.90" r="1.2" class="mk"/><circle cx="508.28" cy="302.50" r="1.2" class="mk"/><circle cx="516.14" cy="300.70" r="1.2" class="mk"/><circle cx="524.00" cy="302.50" r="1.2" class="mk"/><circle cx="531.86" cy="299.40" r="1.2" class="mk"/><circle cx="539.72" cy="300.80" r="1.2" class="mk"/><circle cx="547.58" cy="296.50" r="1.2" class="mk"/><circle cx="555.44" cy="299.40" r="1.2" class="mk"/><circle cx="563.30" cy="295.00" r="1.2" class="mk"/><circle cx="571.16" cy="298.10" r="1.2" class="mk"/><circle cx="579.02" cy="293.80" r="1.2" class="mk"/><circle cx="586.88" cy="297.50" r="1.2" class="mk"/><circle cx="594.74" cy="293.10" r="1.2" class="mk"/><circle cx="602.60" cy="296.80" r="1.2" class="mk"/><circle cx="610.46" cy="292.50" r="1.2" class="mk"/><circle cx="618.32" cy="296.80" r="1.2" class="mk"/><circle cx="626.18" cy="292.10" r="1.2" class="mk"/><circle cx="634.04" cy="296.50" r="1.2" class="mk"/><circle cx="641.90" cy="291.80" r="1.2" class="mk"/><circle cx="649.76" cy="296.50" r="1.2" class="mk"/><circle cx="657.62" cy="292.00" r="1.2" class="mk"/><circle cx="665.48" cy="296.47" r="1.2" class="mk"/><circle cx="673.34" cy="291.93" r="1.2" class="mk"/><circle cx="681.20" cy="296.43" r="1.2" class="mk"/><circle cx="689.06" cy="291.87" r="1.2" class="mk"/><circle cx="696.92" cy="296.40" r="1.2" class="mk"/><circle cx="704.78" cy="291.80" r="1.2" class="mk"/><circle cx="712.64" cy="296.90" r="1.2" class="mk"/>
<circle cx="484.70" cy="326.30" r="1.2" class="mk"/><circle cx="492.56" cy="298.10" r="1.2" class="mk"/><circle cx="500.42" cy="312.60" r="1.2" class="mk"/><circle cx="508.28" cy="318.20" r="1.2" class="mk"/><circle cx="516.14" cy="316.30" r="1.2" class="mk"/><circle cx="524.00" cy="317.00" r="1.2" class="mk"/><circle cx="531.86" cy="315.00" r="1.2" class="mk"/><circle cx="539.72" cy="315.70" r="1.2" class="mk"/><circle cx="547.58" cy="313.20" r="1.2" class="mk"/><circle cx="555.44" cy="314.40" r="1.2" class="mk"/><circle cx="563.30" cy="312.50" r="1.2" class="mk"/><circle cx="571.16" cy="313.50" r="1.2" class="mk"/><circle cx="579.02" cy="311.90" r="1.2" class="mk"/><circle cx="586.88" cy="313.20" r="1.2" class="mk"/><circle cx="594.74" cy="311.30" r="1.2" class="mk"/><circle cx="602.60" cy="313.20" r="1.2" class="mk"/><circle cx="610.46" cy="311.00" r="1.2" class="mk"/><circle cx="618.32" cy="313.40" r="1.2" class="mk"/><circle cx="626.18" cy="311.10" r="1.2" class="mk"/><circle cx="634.04" cy="313.44" r="1.2" class="mk"/><circle cx="641.90" cy="311.20" r="1.2" class="mk"/><circle cx="649.76" cy="313.48" r="1.2" class="mk"/><circle cx="657.62" cy="311.30" r="1.2" class="mk"/><circle cx="665.48" cy="313.52" r="1.2" class="mk"/><circle cx="673.34" cy="311.40" r="1.2" class="mk"/><circle cx="681.20" cy="313.56" r="1.2" class="mk"/><circle cx="689.06" cy="311.50" r="1.2" class="mk"/><circle cx="696.92" cy="313.60" r="1.2" class="mk"/><circle cx="704.78" cy="311.60" r="1.2" class="mk"/><circle cx="712.64" cy="314.50" r="1.2" class="mk"/>
<circle cx="484.70" cy="337.00" r="1.2" class="mk"/><circle cx="492.56" cy="313.80" r="1.2" class="mk"/><circle cx="500.42" cy="323.20" r="1.2" class="mk"/><circle cx="508.28" cy="326.30" r="1.2" class="mk"/><circle cx="516.14" cy="324.50" r="1.2" class="mk"/><circle cx="524.00" cy="324.50" r="1.2" class="mk"/><circle cx="531.86" cy="323.20" r="1.2" class="mk"/><circle cx="539.72" cy="323.00" r="1.2" class="mk"/><circle cx="547.58" cy="322.80" r="1.2" class="mk"/><circle cx="555.44" cy="322.90" r="1.2" class="mk"/><circle cx="563.30" cy="322.50" r="1.2" class="mk"/><circle cx="571.16" cy="322.70" r="1.2" class="mk"/><circle cx="579.02" cy="322.30" r="1.2" class="mk"/><circle cx="586.88" cy="322.60" r="1.2" class="mk"/><circle cx="594.74" cy="322.30" r="1.2" class="mk"/><circle cx="602.60" cy="322.60" r="1.2" class="mk"/><circle cx="610.46" cy="322.30" r="1.2" class="mk"/><circle cx="618.32" cy="322.70" r="1.2" class="mk"/><circle cx="626.18" cy="322.60" r="1.2" class="mk"/><circle cx="634.04" cy="323.20" r="1.2" class="mk"/><circle cx="641.90" cy="323.30" r="1.2" class="mk"/><circle cx="649.76" cy="324.00" r="1.2" class="mk"/><circle cx="657.62" cy="324.30" r="1.2" class="mk"/><circle cx="665.48" cy="325.00" r="1.2" class="mk"/><circle cx="673.34" cy="325.80" r="1.2" class="mk"/>
<text transform="translate(448.0,271.5) rotate(-90)" text-anchor="middle" class="al">h<tspan class="sb2" dy="2.5">hv</tspan><tspan dy="-2.5">&#183;10</tspan><tspan class="sp" dy="-4.3">-6</tspan><tspan dy="4.3">, W/(m</tspan><tspan class="sp" dy="-4.3">3</tspan><tspan dy="4.3">K)</tspan></text>
<text x="592.9" y="394.7" class="xl">Z/d<tspan class="sb2" dy="3">hilo</tspan><tspan dy="-3">, (-)</tspan></text>
</svg>
<div class="t b" style="left:76.2px;top:10px;letter-spacing:0.68px;word-spacing:0;">Malla tipo A</div>
<div class="t" style="left:77px;top:35px;letter-spacing:0.28px;">Diámetro de hilo = 1.00 mm</div>
<div class="t" style="left:77px;top:55px;letter-spacing:0.35px;">Tamaño de malla = 0.20 mm</div>
<div class="t" style="left:77px;top:75px;letter-spacing:0.35px;">Porosidad volumétrica = 70.1 %</div>
<div class="t" style="left:77px;top:95px;letter-spacing:0.3px;">Superficie específica = 1194 m<sup>-1</sup></div>
<div class="t b" style="left:469.9px;top:10px;letter-spacing:0.52px;word-spacing:0;">Malla tipo B</div>
<div class="t" style="left:470.2px;top:35px;letter-spacing:0.28px;">Diámetro de hilo = 0.70 mm</div>
<div class="t" style="left:470.2px;top:55px;letter-spacing:0.35px;">Tamaño de malla = 0.31 mm</div>
<div class="t" style="left:470.2px;top:75px;letter-spacing:0.35px;">Porosidad volumétrica = 67.6 %</div>
<div class="t" style="left:470.2px;top:95px;letter-spacing:0.3px;">Superficie específica = 1849 m<sup>-1</sup></div>
<div class="t" style="left:4px;width:393px;top:412px;text-align:center;letter-spacing:0.35px;">(a)</div>
<div class="t" style="left:397px;width:393px;top:412px;text-align:center;letter-spacing:0.35px;">(b)</div>
<div class="t" style="left:18px;top:433px;letter-spacing:0.25px;">Fig. 1. Coeficiente volumétrico de transferencia de calor a lo largo de la dirección de circulación del</div>
<div class="t" style="left:55.6px;top:452.6px;letter-spacing:0.2px;">fluido para una temperatura de la matriz sólida de 700 K (a) Malla tipo A; (b) Malla tipo B;</div>
</body></html>
